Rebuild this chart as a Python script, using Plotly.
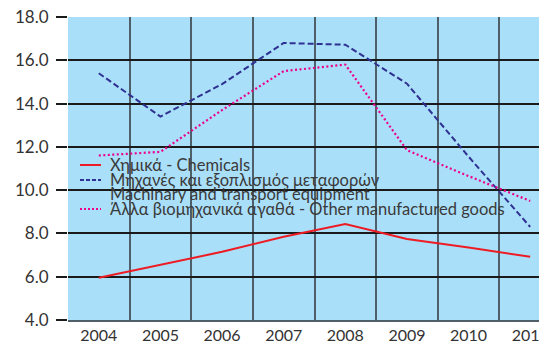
import plotly.graph_objects as go

years = ["2004", "2005", "2006", "2007", "2008", "2009", "2010", "2011"]
chemicals = [5.95, 6.55, 7.15, 7.85, 8.43, 7.74, 7.35, 6.92]
machinery = [15.4, 13.4, 14.9, 16.8, 16.72, 14.92, 11.55, 8.3]
other_goods = [11.6, 11.77, 13.7, 15.5, 15.8, 11.85, 10.65, 9.5]

names = [
    "Χημικά - Chemicals",
    "Μηχανές και εξοπλισμός μεταφορών",
    "Machinary and transport equipment",
    "Άλλα βιομηχανικά αγαθά - Other manufactured goods",
]

red = "#ED1C24"
navy = "#2E3192"
pink = "#EC008C"

fig = go.Figure()
fig.add_trace(go.Scatter(x=years, y=chemicals, mode="lines", name=names[0],
                         line=dict(color=red, width=2)))
fig.add_trace(go.Scatter(x=years, y=machinery, mode="lines", name=names[1] + " " + names[2],
                         line=dict(color=navy, width=2, dash="6px,3px")))
fig.add_trace(go.Scatter(x=years, y=other_goods, mode="lines", name=names[3],
                         line=dict(color=pink, width=2.2, dash="2px,2.5px")))

# page body adds an 8px offset, so figure coords = screen coords - 8
off = 8
left, top, w, h = 60, 9, 493, 303
def px_x(p):
    return (p - off - left) / w
def px_y(p):
    return (top + h - (p - off)) / h

# hand-placed legend so the rows sit as tight as in the original
rows = [165, 180, 194.5, 209]
samples = [(red, "solid", 0), (navy, "4px,2px", 1), (pink, "2px,2px", 3)]
for color, dash, i in samples:
    fig.add_shape(type="line", xref="paper", yref="paper",
                  x0=px_x(80), x1=px_x(101), y0=px_y(rows[i]), y1=px_y(rows[i]),
                  line=dict(color=color, width=2, dash=dash))
for i, txt in enumerate(names):
    fig.add_annotation(text=txt, xref="paper", yref="paper",
                       x=px_x(108), y=px_y(rows[i]), xanchor="left", yanchor="middle",
                       showarrow=False, font=dict(size=16.5, color="#3a3a3a"))

fig.update_layout(
    width=555,
    height=354,
    margin=dict(l=left, r=555 - left - w, t=top, b=354 - top - h),
    paper_bgcolor="white",
    plot_bgcolor="#AADFF9",
    font=dict(family="Lato, Noto Sans", size=16, color="#333333"),
    showlegend=False,
)
fig.update_xaxes(
    type="category",
    range=[-0.5, 7.5],
    tickson="boundaries",
    ticks="",
    showgrid=True,
    gridcolor="#4f5f69",
    gridwidth=1.5,
    showline=True,
    linecolor="#4f5f69",
    linewidth=1.5,
    tickfont=dict(size=16, color="#333333"),
    zeroline=False,
    automargin=False,
)
fig.update_yaxes(
    range=[4, 18],
    dtick=2,
    tickformat=".1f",
    ticks="outside",
    ticklen=11,
    tickcolor="#1a1a1a",
    tickwidth=1.5,
    showgrid=True,
    gridcolor="#1a1a1a",
    gridwidth=1.5,
    showline=False,
    zeroline=False,
    tickfont=dict(size=17, color="#333333"),
    ticklabelstandoff=4,
    ticklabeloverflow="allow",
    automargin=False,
)

fig.write_html("out.html")
